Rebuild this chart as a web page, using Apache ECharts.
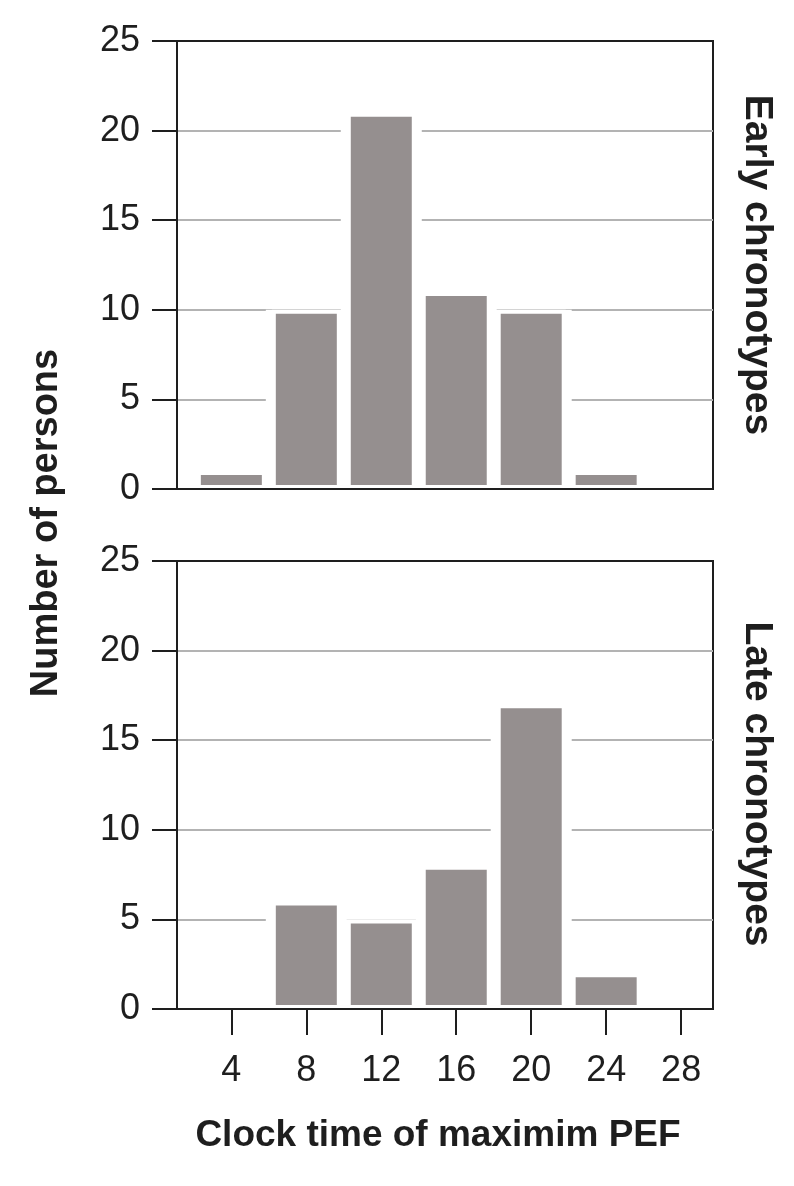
<!DOCTYPE html>
<html>
<head>
<meta charset="utf-8">
<script src="https://cdn.jsdelivr.net/npm/echarts@6/dist/echarts.min.js"></script>
<style>
  html, body { margin: 0; padding: 0; background: #fff; }
  #chart-container { width: 794px; height: 1186px; }
</style>
</head>
<body>
<div id="chart-container"></div>
<script>
// clock time (hours) of maximum PEF, bin centres
var clockTimes = [4, 8, 12, 16, 20, 24];
var earlyCounts = [1, 10, 21, 11, 10, 1];
var lateCounts = [0, 6, 5, 8, 17, 2];
var xTickValues = [4, 8, 12, 16, 20, 24, 28];

var dom = document.getElementById('chart-container');
var myChart = echarts.init(dom, null, { renderer: 'canvas' });

var ink = '#1e1e1e';
var barGrey = '#958f8f';
var font = 'Liberation Sans, Arial, sans-serif';

function pairs(values) {
  return clockTimes.map(function (t, i) { return [t, values[i]]; });
}

function xAxisFor(gridIndex, showLabels) {
  return {
    type: 'value',
    gridIndex: gridIndex,
    min: 1.1,
    max: 29.7,
    z: 5,
    axisLine: { show: true, onZero: false, lineStyle: { color: ink, width: 2 } },
    axisTick: {
      show: showLabels,
      customValues: xTickValues,
      length: 26,
      lineStyle: { color: ink, width: 2 }
    },
    axisLabel: {
      show: showLabels,
      customValues: xTickValues,
      margin: 44,
      fontSize: 36,
      fontFamily: font,
      color: ink
    },
    splitLine: { show: false }
  };
}

// hidden twin axis, only used to lay out the white gap behind the bars
function haloAxisFor(gridIndex) {
  return { type: 'value', gridIndex: gridIndex, min: 1.1, max: 29.7, show: false };
}

function yAxisFor(gridIndex) {
  return {
    type: 'value',
    gridIndex: gridIndex,
    min: 0,
    max: 25,
    interval: 5,
    axisLine: { show: true, lineStyle: { color: ink, width: 2 } },
    axisTick: { show: true, length: 25, lineStyle: { color: ink, width: 2 } },
    axisLabel: { margin: 37, fontSize: 36, fontFamily: font, color: ink },
    splitLine: {
      show: true,
      showMinLine: false,
      showMaxLine: false,
      lineStyle: { color: '#b3b3b3', width: 2 }
    }
  };
}

function barSeries(name, xIdx, yIdx, values) {
  return {
    name: name,
    type: 'bar',
    xAxisIndex: xIdx,
    yAxisIndex: yIdx,
    barWidth: 69,
    z: 3,
    itemStyle: { color: barGrey, borderColor: '#fff', borderWidth: 4 },
    data: pairs(values)
  };
}

function haloSeries(xIdx, yIdx, values) {
  return {
    type: 'bar',
    xAxisIndex: xIdx,
    yAxisIndex: yIdx,
    barWidth: 81,
    z: 2,
    silent: true,
    itemStyle: { color: '#fff' },
    data: pairs(values)
  };
}

var option = {
  animation: false,
  grid: [
    { left: 177, right: 81, top: 41, height: 448, show: true, borderColor: ink, borderWidth: 2 },
    { left: 177, right: 81, top: 561, height: 448, show: true, borderColor: ink, borderWidth: 2 }
  ],
  xAxis: [xAxisFor(0, false), xAxisFor(1, true), haloAxisFor(0), haloAxisFor(1)],
  yAxis: [yAxisFor(0), yAxisFor(1)],
  series: [
    haloSeries(2, 0, earlyCounts),
    haloSeries(3, 1, lateCounts),
    barSeries('Early chronotypes', 0, 0, earlyCounts),
    barSeries('Late chronotypes', 1, 1, lateCounts)
  ],
  graphic: [
    {
      type: 'text', x: 47, y: 523, rotation: Math.PI / 2,
      style: { text: 'Number of persons', font: 'bold 38px ' + font, fill: ink, align: 'center', verticalAlign: 'middle' }
    },
    {
      type: 'text', x: 438, y: 1136,
      style: { text: 'Clock time of maximim PEF', font: 'bold 37px ' + font, fill: ink, align: 'center', verticalAlign: 'middle' }
    },
    {
      type: 'text', x: 757, y: 265, rotation: -Math.PI / 2,
      style: { text: 'Early chronotypes', font: 'bold 39px ' + font, fill: ink, align: 'center', verticalAlign: 'middle' }
    },
    {
      type: 'text', x: 757, y: 784, rotation: -Math.PI / 2,
      style: { text: 'Late chronotypes', font: 'bold 39px ' + font, fill: ink, align: 'center', verticalAlign: 'middle' }
    }
  ]
};

myChart.setOption(option);
window.addEventListener('resize', myChart.resize);
</script>
</body>
</html>
